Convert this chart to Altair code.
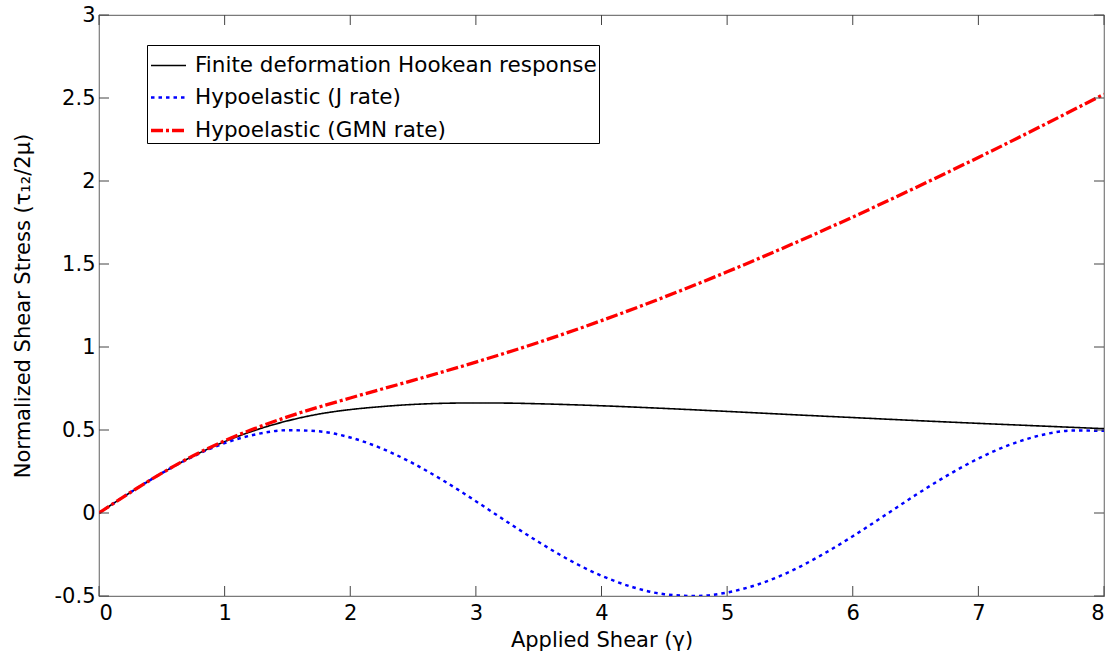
import altair as alt
import pandas as pd

# ---- data ----
series_names = ["Finite deformation Hookean response",
                "Hypoelastic (J rate)",
                "Hypoelastic (GMN rate)"]

hooke_gamma = [0, 0.25, 0.5, 0.75, 1, 1.25, 1.5, 1.75, 2, 2.25, 2.5, 2.75, 3,
               3.25, 3.5, 4, 4.5, 5, 5.5, 6, 6.5, 7, 7.5, 8]
hooke_tau = [0, 0.124, 0.240, 0.343, 0.430, 0.500, 0.555, 0.596, 0.623, 0.641,
             0.654, 0.661, 0.663, 0.662, 0.658, 0.646, 0.630, 0.612, 0.593,
             0.575, 0.557, 0.540, 0.524, 0.508]

jrate_gamma = [0, 0.25, 0.5, 0.75, 1, 1.25, 1.5, 1.75, 2, 2.25, 2.5, 2.75, 3,
               3.25, 3.5, 3.75, 4, 4.25, 4.5, 4.75, 5, 5.25, 5.5, 5.75, 6,
               6.25, 6.5, 6.75, 7, 7.25, 7.5, 7.75, 8]
jrate_tau = [0, 0.124, 0.240, 0.341, 0.421, 0.474, 0.499, 0.492, 0.455, 0.389,
             0.299, 0.191, 0.071, -0.054, -0.175, -0.286, -0.378, -0.447,
             -0.489, -0.500, -0.479, -0.429, -0.353, -0.254, -0.140, -0.017,
             0.108, 0.225, 0.328, 0.411, 0.469, 0.497, 0.495]

gmn_gamma = [0, 0.25, 0.5, 0.75, 1, 1.5, 2, 2.5, 3, 3.5, 4, 4.5, 5, 5.5, 6,
             6.5, 7, 7.5, 8]
gmn_tau = [0, 0.124, 0.240, 0.345, 0.435, 0.579, 0.693, 0.799, 0.909, 1.028,
           1.159, 1.301, 1.453, 1.614, 1.783, 1.960, 2.142, 2.330, 2.523]

x_ticks = [0, 1, 2, 3, 4, 5, 6, 7, 8]
y_ticks = [-0.5, 0, 0.5, 1, 1.5, 2, 2.5, 3]
x_min, x_max = 0, 8
y_min, y_max = -0.5, 3

rows = []
for name, gs, ts in [(series_names[0], hooke_gamma, hooke_tau),
                     (series_names[1], jrate_gamma, jrate_tau),
                     (series_names[2], gmn_gamma, gmn_tau)]:
    for g, t in zip(gs, ts):
        rows.append({"series": name, "gamma": g, "tau": t})
df = pd.DataFrame(rows)
xt = pd.DataFrame({"v": x_ticks})
yt = pd.DataFrame({"v": y_ticks})

FONT = "DejaVu Sans"
FS = 21
W, H = 1005, 581
TICKC = "#444444"
TL = 10  # tick length in px

xscale = alt.Scale(domain=[x_min, x_max], nice=False, zero=False)
yscale = alt.Scale(domain=[y_min, y_max], nice=False, zero=False)

legend = alt.Legend(
    title=None, orient="none", legendX=48, legendY=30,
    strokeColor="black", fillColor="white", padding=2,
    symbolType="stroke", symbolSize=1225, labelFont=FONT, labelFontSize=21.5,
    labelColor="black", labelLimit=1000, labelOffset=7, rowPadding=2.5,
)

lines = alt.Chart(df).mark_line(interpolate="monotone", clip=True).encode(
    x=alt.X("gamma:Q", scale=xscale,
            axis=alt.Axis(orient="bottom", values=x_ticks, ticks=False,
                          tickSize=0, domain=False, grid=False,
                          labelPadding=6, labelFont=FONT, labelFontSize=FS,
                          labelColor="black", title="Applied Shear (γ)",
                          titleFont=FONT, titleFontSize=FS,
                          titleFontWeight="normal", titleColor="black",
                          titlePadding=6, labelExpr="'' + datum.value")),
    y=alt.Y("tau:Q", scale=yscale,
            axis=alt.Axis(orient="left", values=y_ticks, ticks=False,
                          tickSize=0, domain=False, grid=False,
                          labelPadding=4, labelFont=FONT, labelFontSize=FS,
                          labelColor="black",
                          title="Normalized Shear Stress (τ₁₂/2μ)",
                          titleFont=FONT, titleFontSize=FS,
                          titleFontWeight="normal", titleColor="black",
                          titlePadding=21, labelExpr="'' + datum.value")),
    color=alt.Color("series:N",
                    scale=alt.Scale(domain=series_names,
                                    range=["black", "#0000ff", "#ff0000"]),
                    legend=legend),
    strokeDash=alt.StrokeDash("series:N",
                              scale=alt.Scale(domain=series_names,
                                              range=[[1, 0], [3.5, 4], [12, 3, 3, 3]]),
                              legend=legend),
    strokeWidth=alt.StrokeWidth("series:N",
                                scale=alt.Scale(domain=series_names,
                                                range=[1.6, 3.3, 3.2]),
                                legend=legend),
    order=alt.Order("gamma:Q"),
)

# inward-pointing tick marks on all four sides, placed through the scales
tick_bottom = alt.Chart(xt).mark_rule(color=TICKC, strokeWidth=1, y2Offset=-TL).encode(
    x=alt.X("v:Q", scale=xscale, axis=None),
    y=alt.datum(y_min, scale=yscale, axis=None),
    y2=alt.datum(y_min),
)
tick_top = alt.Chart(xt).mark_rule(color=TICKC, strokeWidth=1, y2Offset=TL).encode(
    x=alt.X("v:Q", scale=xscale, axis=None),
    y=alt.datum(y_max, scale=yscale, axis=None),
    y2=alt.datum(y_max),
)
tick_left = alt.Chart(yt).mark_rule(color=TICKC, strokeWidth=1, x2Offset=TL).encode(
    y=alt.Y("v:Q", scale=yscale, axis=None),
    x=alt.datum(x_min, scale=xscale, axis=None),
    x2=alt.datum(x_min),
)
tick_right = alt.Chart(yt).mark_rule(color=TICKC, strokeWidth=1, x2Offset=-TL).encode(
    y=alt.Y("v:Q", scale=yscale, axis=None),
    x=alt.datum(x_max, scale=xscale, axis=None),
    x2=alt.datum(x_max),
)

chart = alt.layer(lines, tick_bottom, tick_top, tick_left, tick_right).resolve_axis(
    x="independent", y="independent"
).properties(
    width=W, height=H,
    autosize=alt.AutoSizeParams(type="none"),
    padding={"left": 99, "top": 15, "right": 9, "bottom": 60},
    background="white",
).configure_view(stroke="#7a7a7a", strokeWidth=1.2)

chart.save("out.html", embed_options={"renderer": "svg", "actions": False})
